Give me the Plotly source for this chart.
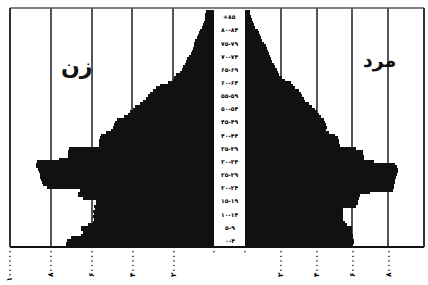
import plotly.graph_objects as go

# Single-year ages 0..89 (top band labelled 85+)
ages = list(range(90))

# Women (زن), thousands of persons, age 0 upward
women_k = [725, 727, 720, 700, 650, 644, 654, 650, 620, 595,
           590, 595, 590, 595, 585, 590, 580, 580, 640, 668,
           665, 655, 820, 839, 845, 849, 852, 855, 860, 865,
           873, 873, 870, 760, 717, 717, 715, 710, 566, 566,
           566, 560, 556, 530, 507, 495, 490, 483, 475, 440,
           424, 410, 395, 385, 365, 346, 335, 325, 312, 300,
           285, 263, 225, 200, 195, 185, 165, 156, 150, 140,
           135, 130, 122, 115, 107, 103, 100, 96, 93, 85,
           78, 72, 68, 60, 55, 50, 46, 44, 42, 40]

# Men (مرد), thousands of persons
men_k = [605, 611, 611, 605, 605, 600, 600, 595, 570, 557,
         550, 546, 546, 545, 546, 620, 632, 632, 635, 640,
         700, 827, 830, 835, 838, 840, 843, 848, 852, 854,
         850, 840, 720, 665, 665, 660, 660, 620, 530, 524,
         524, 520, 500, 470, 450, 460, 450, 445, 440, 425,
         416, 400, 390, 375, 360, 335, 330, 320, 313, 300,
         280, 270, 255, 225, 205, 192, 185, 178, 170, 160,
         150, 145, 140, 135, 130, 125, 115, 105, 97, 90,
         85, 80, 70, 55, 50, 42, 38, 34, 30, 27]

group_labels = ["۰-۴", "۵-۹", "۱۰-۱۴", "۱۵-۱۹", "۲۰-۲۴", "۲۵-۲۹", "۳۰-۳۴", "۳۵-۳۹",
                "۴۰-۴۴", "۴۵-۴۹", "۵۰-۵۴", "۵۵-۵۹", "۶۰-۶۴", "۶۵-۶۹", "۷۰-۷۴",
                "۷۵-۷۹", "۸۰-۸۴", "+۸۵"]
group_centers = [2 + 5 * i for i in range(18)]

tick_vals = [0, 200000, 400000, 600000, 800000, 1000000]
tick_text = ["۰", "۲۰۰۰۰۰", "۴۰۰۰۰۰", "۶۰۰۰۰۰", "۸۰۰۰۰۰", "۱۰۰۰۰۰۰"]

women = [v * 1000 for v in women_k]
men = [v * 1000 for v in men_k]

fig = go.Figure()
fig.add_trace(go.Bar(x=women, y=ages, orientation="h", xaxis="x", yaxis="y",
                     marker=dict(color="#111111", line=dict(width=0)), showlegend=False))
fig.add_trace(go.Bar(x=men, y=ages, orientation="h", xaxis="x2", yaxis="y",
                     marker=dict(color="#111111", line=dict(width=0)), showlegend=False))

axis_common = dict(tickvals=tick_vals, ticktext=["<b>" + t + "</b>" for t in tick_text],
                   tickangle=-90,
                   showgrid=True, gridcolor="#555555", gridwidth=1.5,
                   zeroline=False, showline=False, ticks="", automargin=False,
                   tickfont=dict(family="DejaVu Sans", size=7.5, color="#000"))

L = 10
R = 424
W = R - L
T = 8
B = 247
H = B - T
fig.update_layout(
    width=428, height=285,
    margin=dict(l=L, r=428 - R, t=T, b=285 - B, autoexpand=False),
    paper_bgcolor="white", plot_bgcolor="white",
    bargap=0,
    xaxis=dict(domain=[0, (214 - L) / W], range=[1000000, 0], **axis_common),
    xaxis2=dict(domain=[(245 - L) / W, 1], range=[0, 1000000], **axis_common),
    yaxis=dict(range=[-0.5, 90.3], showticklabels=False, showgrid=False,
               zeroline=False, ticks="", automargin=False),
)

shapes = [
    dict(type="line", xref="paper", yref="paper", x0=0, x1=1, y0=0, y1=0,
         line=dict(color="#111", width=2)),
    dict(type="line", xref="paper", yref="paper", x0=0, x1=1, y0=1, y1=1,
         line=dict(color="#555", width=1.5)),
    dict(type="line", xref="paper", yref="paper", x0=0, x1=0, y0=0, y1=1,
         line=dict(color="#333", width=2)),
    dict(type="line", xref="paper", yref="paper", x0=1, x1=1, y0=0, y1=1,
         line=dict(color="#333", width=2)),
]
fig.update_layout(shapes=shapes)

ann = []
cx = ((214 + 245) / 2 - L) / W
for lab, c in zip(group_labels, group_centers):
    ann.append(dict(x=cx, y=c, xref="paper", yref="y", text="<b>" + lab + "</b>",
                    showarrow=False, xanchor="center", yanchor="middle",
                    font=dict(family="DejaVu Sans", size=6, color="#000")))
ann.append(dict(x=(76 - L) / W, y=(B - 66) / H, xref="paper", yref="paper",
                text="<b>زن</b>", showarrow=False, xanchor="center", yanchor="middle",
                font=dict(family="DejaVu Sans", size=22, color="#111")))
ann.append(dict(x=(379 - L) / W, y=(B - 60) / H, xref="paper", yref="paper",
                text="<b>مرد</b>", showarrow=False, xanchor="center", yanchor="middle",
                font=dict(family="DejaVu Sans", size=19, color="#111")))
fig.update_layout(annotations=ann)

fig.write_html("out.html", config={"displayModeBar": False},
               post_script="document.body.style.margin='0';document.body.style.overflow='hidden';")
